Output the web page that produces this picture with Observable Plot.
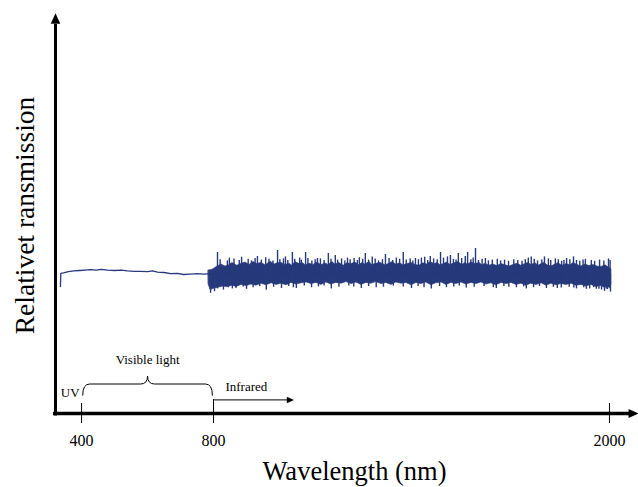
<!DOCTYPE html>
<html><head><meta charset="utf-8">
<script src="https://cdn.jsdelivr.net/npm/d3@7"></script>
<script src="https://cdn.jsdelivr.net/npm/@observablehq/plot@0.6"></script>
<style>html,body{margin:0;padding:0;background:#fff;} svg{display:block;}</style>
</head><body><div id="chart"></div>
<script>
// Visible range trace (smooth part)
const visW = [336, 337, 345, 360, 376, 395, 410, 427, 445, 460, 479, 500, 520, 539, 560, 579, 600, 615, 630, 650, 670, 690, 709, 730, 751, 770, 790];
const visT = [31.5, 34.8, 34.9, 35.2, 35.4, 35.5, 35.6, 35.7, 35.6, 35.8, 35.6, 35.5, 35.6, 35.4, 35.3, 35.3, 35.2, 35.4, 35.1, 35.0, 34.7, 34.8, 34.5, 34.6, 34.7, 34.6, 34.7];

// Infrared noisy band: upper edge of the dense trace
const upW = [785, 797, 812, 824, 836, 848, 857, 872, 885, 897, 909, 921, 933, 945, 958, 973, 985, 994, 1006, 1018, 1030, 1039, 1048, 1061, 1070, 1079, 1091, 1103, 1115, 1127, 1139, 1148, 1160, 1169, 1181, 1194, 1206, 1218, 1230, 1242, 1251, 1260, 1272, 1281, 1293, 1306, 1321, 1333, 1342, 1354, 1366, 1375, 1388, 1400, 1412, 1424, 1436, 1448, 1457, 1470, 1479, 1488, 1500, 1509, 1518, 1530, 1542, 1554, 1563, 1570, 1582, 1594, 1606, 1615, 1624, 1636, 1648, 1660, 1673, 1685, 1697, 1709, 1721, 1733, 1745, 1754, 1763, 1776, 1785, 1794, 1803, 1812, 1824, 1836, 1845, 1857, 1870, 1882, 1891, 1903, 1915, 1927, 1939, 1951, 1963, 1976, 1988, 1997, 2006];
const upT = [35.5, 35.7, 36.5, 37.0, 36.5, 36.8, 37.4, 36.7, 37.2, 37.5, 36.9, 37.6, 37.1, 37.4, 36.8, 37.7, 37.0, 37.3, 37.4, 36.9, 37.2, 36.7, 37.6, 37.1, 37.4, 36.8, 37.2, 36.9, 37.5, 36.8, 37.3, 36.9, 37.6, 37.0, 37.4, 36.7, 37.3, 37.1, 37.5, 36.8, 37.4, 37.0, 37.6, 36.9, 37.2, 37.4, 36.8, 37.2, 37.6, 37.0, 37.3, 36.8, 37.1, 37.4, 36.9, 36.7, 37.3, 37.0, 37.6, 37.1, 37.4, 36.8, 37.2, 37.5, 36.9, 37.3, 37.6, 36.9, 37.4, 37.0, 37.5, 37.1, 37.4, 36.8, 37.2, 36.7, 37.0, 36.6, 37.1, 36.8, 36.5, 36.9, 37.2, 36.7, 37.1, 37.4, 36.9, 37.3, 36.7, 37.1, 37.4, 36.8, 36.5, 37.0, 37.3, 36.7, 37.1, 36.8, 37.4, 36.9, 36.5, 37.0, 36.6, 36.9, 36.5, 36.4, 36.8, 36.3, 35.8];

// Infrared noisy band: lower edge of the dense trace
const downW = [785, 791, 803, 815, 830, 842, 857, 870, 885, 900, 915, 930, 945, 960, 976, 991, 1006, 1021, 1036, 1051, 1067, 1082, 1097, 1112, 1127, 1142, 1157, 1172, 1188, 1203, 1218, 1233, 1248, 1263, 1278, 1293, 1309, 1324, 1339, 1354, 1369, 1384, 1400, 1415, 1430, 1445, 1460, 1475, 1491, 1506, 1521, 1536, 1551, 1566, 1582, 1597, 1612, 1627, 1642, 1657, 1673, 1688, 1703, 1718, 1733, 1748, 1763, 1779, 1794, 1809, 1824, 1839, 1854, 1870, 1885, 1900, 1915, 1930, 1945, 1960, 1976, 1985, 1994, 2003, 2006];
const downT = [32.0, 30.6, 31.0, 31.2, 31.5, 31.3, 31.7, 31.4, 31.9, 31.6, 32.0, 31.7, 32.2, 31.8, 32.3, 31.9, 32.2, 31.8, 32.4, 32.0, 32.3, 32.5, 32.1, 32.4, 31.9, 32.5, 32.0, 32.4, 32.2, 32.6, 32.1, 32.5, 31.9, 32.4, 32.2, 32.6, 32.1, 32.4, 31.9, 32.5, 32.2, 32.4, 31.8, 32.4, 32.1, 32.5, 31.8, 32.3, 32.5, 31.9, 32.4, 32.1, 32.5, 32.0, 32.4, 32.1, 32.5, 32.0, 32.3, 31.8, 32.4, 32.1, 32.4, 31.9, 32.2, 31.7, 32.2, 31.9, 32.3, 31.7, 32.2, 31.8, 32.1, 31.9, 32.2, 31.7, 31.9, 31.5, 31.9, 31.4, 31.6, 31.2, 31.5, 31.0, 32.0];

// Tall isolated spikes
const spikeUpW = [812, 848, 885, 933, 958, 994, 1018, 1039, 1061, 1079, 1115, 1148, 1169, 1206, 1242, 1260, 1281, 1321, 1354, 1375, 1412, 1440, 1457, 1488, 1509, 1518, 1542, 1563, 1570, 1594, 1624, 1660, 1710, 1754, 1763, 1803, 1836, 1870, 1891, 1927, 1997];
const spikeUpT = [40.0, 38.6, 38.8, 39.0, 38.7, 40.5, 38.9, 40.0, 38.6, 40.0, 38.5, 39.75, 39.25, 38.6, 38.7, 39.75, 38.9, 39.5, 38.6, 40.0, 38.5, 38.8, 39.0, 40.0, 38.9, 39.25, 39.75, 39.0, 40.0, 41.0, 38.5, 38.3, 38.2, 38.6, 38.9, 38.9, 38.4, 38.5, 38.9, 38.3, 38.4];
const spikeDownW = [791, 803, 830, 857, 900, 960, 1006, 1051, 1097, 1157, 1248, 1293, 1400, 1460, 1506, 1566, 1657, 1718, 1748, 1809, 1854, 1900, 1930, 1960, 1976, 1985, 1994, 2003];
const spikeDownT = [29.8, 30.2, 30.6, 30.9, 30.8, 30.6, 31.0, 31.0, 31.2, 30.9, 31.0, 31.2, 31.0, 30.9, 31.2, 31.1, 31.0, 31.2, 30.9, 31.0, 31.1, 30.9, 30.8, 30.8, 30.6, 30.3, 30.7, 30.1];

// Medium spikes forming the fringe
const fringeUpW = [820, 842, 862, 878, 905, 915, 926, 945, 968, 980, 1001, 1012, 1025, 1046, 1066, 1086, 1098, 1108, 1124, 1135, 1156, 1176, 1188, 1198, 1214, 1226, 1236, 1252, 1270, 1290, 1300, 1312, 1332, 1343, 1364, 1384, 1396, 1404, 1421, 1430, 1449, 1467, 1478, 1497, 1527, 1535, 1552, 1580, 1587, 1603, 1614, 1633, 1645, 1670, 1682, 1694, 1722, 1735, 1745, 1772, 1782, 1795, 1815, 1822, 1845, 1855, 1862, 1880, 1900, 1910, 1920, 1945, 1955, 1970, 1983, 2002];
const fringeUpT = [38.2, 37.9, 38.4, 38.0, 38.3, 37.9, 38.5, 38.1, 38.3, 37.9, 38.2, 38.4, 38.0, 38.3, 38.1, 38.5, 37.9, 38.2, 38.4, 38.0, 38.3, 38.1, 38.4, 37.9, 38.2, 38.5, 38.0, 38.3, 38.1, 38.4, 37.9, 38.2, 38.5, 38.0, 38.3, 38.1, 38.4, 37.9, 38.2, 38.6, 38.0, 38.4, 38.2, 38.6, 38.3, 38.1, 38.5, 38.2, 38.6, 38.0, 38.3, 37.9, 38.1, 37.9, 38.1, 37.8, 38.0, 37.8, 38.2, 38.3, 37.9, 38.1, 38.4, 38.0, 38.2, 37.8, 38.0, 38.2, 38.0, 37.8, 38.1, 38.0, 37.8, 38.1, 37.9, 38.0];
const fringeDownW = [812, 845, 868, 890, 920, 940, 982, 1028, 1042, 1075, 1118, 1135, 1180, 1210, 1225, 1270, 1315, 1345, 1375, 1420, 1438, 1485, 1528, 1545, 1590, 1620, 1648, 1680, 1695, 1740, 1770, 1788, 1830, 1842, 1878, 1892, 1922, 1940, 1952, 1968, 1990];
const fringeDownT = [30.9, 31.2, 31.0, 31.4, 31.2, 31.5, 31.3, 31.5, 31.2, 31.6, 31.4, 31.6, 31.3, 31.6, 31.4, 31.5, 31.3, 31.6, 31.4, 31.5, 31.2, 31.5, 31.4, 31.6, 31.3, 31.5, 31.2, 31.5, 31.3, 31.4, 31.2, 31.5, 31.3, 31.0, 31.3, 31.1, 31.2, 30.9, 31.2, 30.8, 30.9];

// Axis ticks and annotation text
const tickValues = [400, 800, 2000];
const tickLabels = ["400", "800", "2000"];
const regionBounds = [400, 800];
const regionLabels = ["UV", "Visible light", "Infrared"];
const xTitle = "Wavelength (nm)";
const yTitle = "Relativet ransmission";

const color = "#26397b";
const mid = 34.5;
const xDomain = [321, 2088];

const pair = (ws, ts) => ws.map((w, i) => ({w, t: ts[i]}));
const visData = pair(visW, visT);
const upData = pair(upW, upT);
const downData = pair(downW, downT);
const spikes = pair(spikeUpW, spikeUpT).concat(pair(spikeDownW, spikeDownT), pair(fringeUpW, fringeUpT), pair(fringeDownW, fringeDownT));
const tickData = tickValues.map((v, i) => ({v, label: tickLabels[i]}));

const triUp = {draw(ctx, size) { const s = Math.sqrt(size / Math.PI); ctx.moveTo(0, -s); ctx.lineTo(-0.9 * s, s); ctx.lineTo(0.9 * s, s); ctx.closePath(); }};
const triRight = {draw(ctx, size) { const s = Math.sqrt(size / Math.PI); ctx.moveTo(s, 0); ctx.lineTo(-s, -0.9 * s); ctx.lineTo(-s, 0.9 * s); ctx.closePath(); }};

function brace(index, scales) {
  const x = scales.x, y = scales.y;
  const xa = x(regionBounds[0] + 5), xb = x(regionBounds[1] - 2), xm = (xa + xb) / 2;
  const yb = y(4.1), ya = y(7.0), yt = y(9.0);
  const r = 7;
  const p = `M${xa},${yb} Q${xa},${ya} ${xa + r},${ya} L${xm - r},${ya} Q${xm},${ya} ${xm},${yt} Q${xm},${ya} ${xm + r},${ya} L${xb - r},${ya} Q${xb},${ya} ${xb},${yb}`;
  return d3.create("svg:path").attr("d", p).attr("fill", "none").attr("stroke", "#000").attr("stroke-width", 1).node();
}

const serif = "'Liberation Serif', 'Times New Roman', serif";

const chart = Plot.plot({
  width: 638, height: 487,
  marginLeft: 55, marginRight: 0, marginTop: 12, marginBottom: 75,
  x: {domain: xDomain, axis: null},
  y: {domain: [0, 100], axis: null},
  style: {background: "#fff", fontFamily: serif},
  marks: [
    Plot.line(visData, {x: "w", y: "t", stroke: color, strokeWidth: 1.3}),
    Plot.areaY(upData, {x: "w", y1: mid, y2: "t", fill: color, stroke: color, strokeWidth: 0.6}),
    Plot.areaY(downData, {x: "w", y1: "t", y2: mid, fill: color, stroke: color, strokeWidth: 0.6}),
    Plot.ruleX(spikes, {x: "w", y1: mid, y2: "t", stroke: color, strokeWidth: 1.4}),
    Plot.ruleX([xDomain[0]], {y1: -0.9, y2: 97, stroke: "#000", strokeWidth: 3}),
    Plot.dot([{x: xDomain[0], y: 98.5}], {x: "x", y: "y", symbol: triUp, r: 5.3, fill: "#000", stroke: null}),
    Plot.ruleY([0], {x1: 315, x2: 2070, stroke: "#000", strokeWidth: 3.5, dy: 1}),
    Plot.dot([{x: 2073, y: 0}], {x: "x", y: "y", symbol: triRight, r: 5, fill: "#000", stroke: null, dy: 1}),
    Plot.ruleX(tickData, {x: "v", y1: -2.75, y2: d => d.v === regionBounds[1] ? 3.25 : 2.25, stroke: "#000", strokeWidth: 1}),
    Plot.text(tickData, {x: "v", y: -7.1, text: "label", fontSize: 16, fill: "#000"}),
    Plot.text([regionLabels[0]], {x: regionBounds[0], y: 4.8, text: d => d, textAnchor: "end", dx: -2, fontSize: 13, fill: "#000"}),
    brace,
    Plot.text([regionLabels[1]], {x: (regionBounds[0] + regionBounds[1]) / 2, y: 13.25, text: d => d, fontSize: 13, fill: "#000"}),
    Plot.ruleY([3.15], {x1: regionBounds[1], x2: 1030, stroke: "#000", strokeWidth: 1}),
    Plot.dot([{x: 1033, y: 3.15}], {x: "x", y: "y", symbol: triRight, r: 3.6, fill: "#000", stroke: null}),
    Plot.text([regionLabels[2]], {x: 836, y: 6.4, text: d => d, textAnchor: "start", fontSize: 13, fill: "#000"}),
    Plot.text([xTitle], {frameAnchor: "bottom", text: d => d, lineAnchor: "middle", dx: 7.5, dy: 59, fontSize: 26.5, fill: "#000"}),
    Plot.text([yTitle], {frameAnchor: "left", text: d => d, textAnchor: "middle", lineAnchor: "middle", rotate: -90, dx: -30.8, dy: 3, fontSize: 27.5, fill: "#000"})
  ]
});
document.getElementById("chart").appendChild(chart);
</script>
</body></html>
